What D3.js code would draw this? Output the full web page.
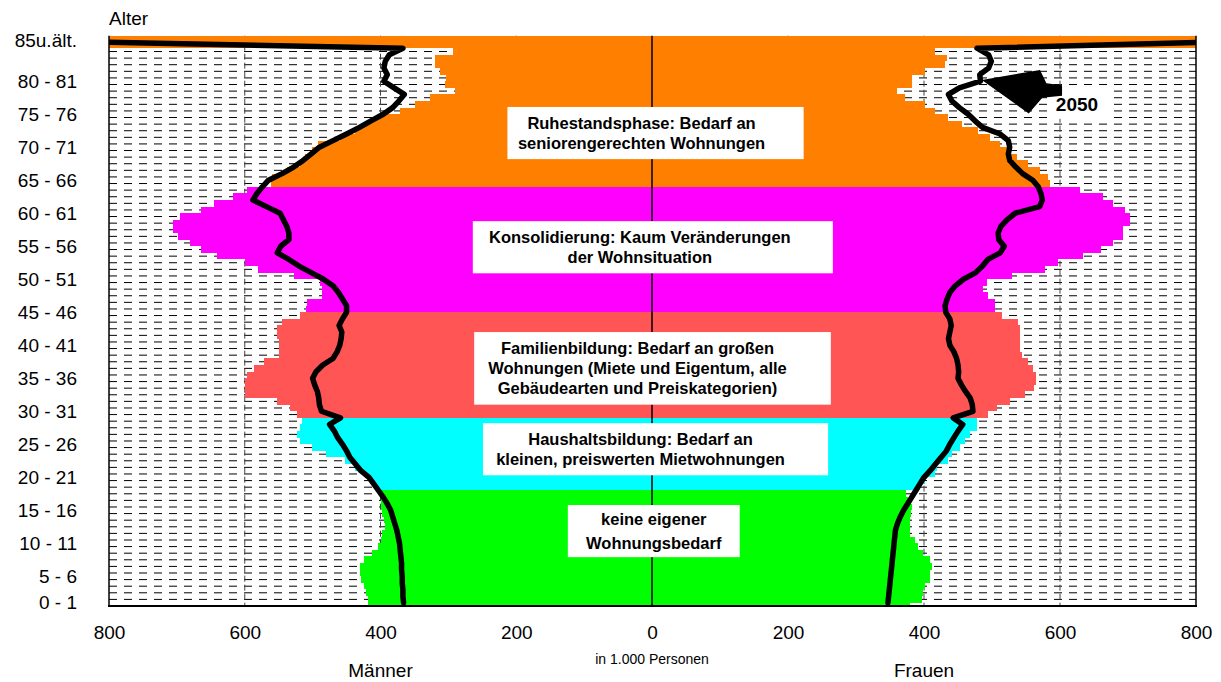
<!DOCTYPE html>
<html>
<head>
<meta charset="utf-8">
<script src="https://cdn.jsdelivr.net/npm/d3@7"></script>
<style>
  body { margin: 0; background: #fff; }
  svg { display: block; font-family: "Liberation Sans", Arial, sans-serif; }
</style>
</head>
<body>
<svg id="chart" width="1221" height="682"></svg>
<script>
// Altersjahre 0 .. 85u.ält., Werte in 1.000 Personen
const ageTickLabels = ["0 - 1", "5 - 6", "10 - 11", "15 - 16", "20 - 21", "25 - 26", "30 - 31",
    "35 - 36", "40 - 41", "45 - 46", "50 - 51", "55 - 56", "60 - 61", "65 - 66", "70 - 71",
    "75 - 76", "80 - 81", "85u.ält."]

const xTickValues = [0, 200, 400, 600, 800]

// heutiger Bestand (farbige Balken)
const maleNow = [
    418, 418, 421, 424, 428, 430, 430, 424, 412, 403, 400, 398, 393, 395, 398, 399, 400, 400,
    405, 412, 423, 437, 452, 481, 501, 518, 523, 518, 515,
    523, 533, 552, 599, 599, 599, 597, 587, 572, 550, 550, 550, 552, 552, 545, 518,
    510, 508, 486, 486, 489, 528, 580, 599, 641, 665, 680, 698, 705, 705, 695, 665, 646, 618, 596,
    562, 560, 538, 518, 511, 501, 492, 459, 437, 422, 405, 371, 349, 327, 290, 305, 303, 312, 319, 319, 293, 900]

const femaleNow = [
    379, 397, 399, 401, 409, 409, 412, 409, 399, 391, 387, 379, 379, 379, 381, 382, 376, 374,
    394, 401, 416, 419, 435, 441, 453, 460, 468, 478, 478,
    494, 507, 526, 549, 562, 565, 565, 560, 553, 544, 541, 541, 541, 541, 538, 514,
    504, 504, 494, 487, 492, 529, 578, 597, 634, 661, 678, 693, 693, 703, 703, 696, 678, 663, 630,
    585, 582, 571, 553, 537, 522, 512, 497, 479, 456, 435, 416, 401, 372, 360, 382, 382, 401, 431, 434, 416, 1200]

// Vorausberechnung 2050 (schwarze Linie)
const male2050 = [
    366, 367, 367, 368, 368, 369, 369, 370, 371, 372,
    374, 376, 379, 382, 385, 390, 396, 403, 410, 417,
    429, 437, 445, 450, 456, 463, 468, 475, 459, 487,
    490, 491, 493, 497, 500, 495, 485, 470, 464, 460,
    458, 457, 461, 456, 450, 450, 456, 462, 470, 484,
    502, 520, 535, 552, 547, 535, 535, 538, 543, 548,
    568, 588, 582, 574, 565, 545, 528, 514, 502, 490,
    470, 450, 431, 414, 396, 382, 373, 365, 380, 395,
    390, 395, 393, 387, 367, 850]

const female2050 = [
    347, 348, 349, 350, 351, 352, 353, 354, 355, 356,
    357, 358, 361, 365, 370, 376, 382, 388, 394, 400,
    409, 417, 425, 433, 438, 444, 450, 457, 443, 472,
    471, 468, 461, 455, 450, 451, 450, 448, 444, 438,
    436, 438, 440, 438, 432, 431, 434, 438, 446, 458,
    476, 486, 494, 512, 518, 510, 509, 513, 522, 534,
    570, 574, 572, 568, 560, 545, 535, 526, 524, 526,
    524, 512, 486, 475, 465, 452, 441, 436, 452, 483,
    482, 495, 499, 495, 478, 850]

// Lebensphasen: letztes Alter der Phase
const phases = [
    { id: "kinder", lastAge: 17, text: ["keine eigener", "Wohnungsbedarf"] },
    { id: "haushalt", lastAge: 28, text: ["Haushaltsbildung: Bedarf an", "kleinen, preiswerten Mietwohnungen"] },
    { id: "familie", lastAge: 44, text: ["Familienbildung: Bedarf an großen", "Wohnungen (Miete und Eigentum, alle", "Gebäudearten und Preiskategorien)"] },
    { id: "konsolidierung", lastAge: 63, text: ["Konsolidierung: Kaum Veränderungen", "der Wohnsituation"] },
    { id: "ruhestand", lastAge: 85, text: ["Ruhestandsphase: Bedarf an", "seniorengerechten Wohnungen"] }]

const phaseColors = { kinder: "#00ff00", haushalt: "#00ffff", familie: "#ff5555", konsolidierung: "#ff00ff", ruhestand: "#ff8000" }

// Textkästen (Lage in Alter / 1.000 Personen)
const boxLayout = {
    kinder: { left: 124, right: 129, top: 15.3, bottom: 7.4, gap: 24, dx: 0 },
    haushalt: { left: 249, right: 259, top: 27.7, bottom: 19.8, gap: 20, dx: -15 },
    familie: { left: 262, right: 263, top: 41.5, bottom: 30.5, gap: 20, dx: -15 },
    konsolidierung: { left: 264, right: 266, top: 58.3, bottom: 50.4, gap: 20, dx: -13 },
    ruhestand: { left: 213, right: 223, top: 75.6, bottom: 67.7, gap: 20, dx: -14 }
}

let svg = d3.select("#chart")
const centerX = 652, outerL = 109, outerR = 1196, bottomY = 606, rowH = 6.601
const maxAge = maleNow.length - 1

let xm = d3.scaleLinear().domain([0, 800]).range([centerX, outerL]),
    xw = d3.scaleLinear().domain([0, 800]).range([centerX, outerR]),
    y = d3.scaleLinear().domain([0, 86]).range([bottomY, bottomY - 86 * rowH])
const plotTop = y(86.4)

const phaseOf = (age) => phases.find(p => age <= p.lastAge).id

svg.append("defs").append("clipPath")
    .attr("id", "plot-clip")
    .append("rect")
    .attr("x", outerL)
    .attr("y", plotTop - 2)
    .attr("width", outerR - outerL)
    .attr("height", bottomY - plotTop + 2)

let plot = svg.append("g").attr("clip-path", "url(#plot-clip)")

// horizontale Gitterlinien je Altersjahr
plot.append("g")
    .selectAll("line")
    .data(d3.range(1, maxAge + 1))
    .enter().append("line")
    .attr("x1", outerL)
    .attr("x2", outerR)
    .attr("y1", d => y(d))
    .attr("y2", d => y(d))
    .style("stroke", "#000")
    .style("stroke-width", 1)
    .attr("stroke-dasharray", "8,7")

// senkrechte Gitterlinien
let vgrid = xTickValues.filter(v => v > 0 && v < 800)
plot.append("g")
    .selectAll("line")
    .data(vgrid.map(v => xm(v)).concat(vgrid.map(v => xw(v))))
    .enter().append("line")
    .attr("x1", d => d)
    .attr("x2", d => d)
    .attr("y1", plotTop)
    .attr("y2", bottomY)
    .style("stroke", "#444")
    .style("stroke-width", 1)
    .attr("stroke-dasharray", "6,3")

const barTop = (a) => a === maxAge ? plotTop : y(a + 0.5)

plot.append("g")
    .attr("shape-rendering", "crispEdges")
    .selectAll("rect")
    .data(maleNow)
    .enter().append("rect")
    .attr("x", d => xm(d))
    .attr("width", d => centerX - xm(d))
    .attr("y", (d, i) => barTop(i))
    .attr("height", (d, i) => y(i - 0.5) - barTop(i))
    .style("fill", (d, i) => phaseColors[phaseOf(i)])

plot.append("g")
    .attr("shape-rendering", "crispEdges")
    .selectAll("rect")
    .data(femaleNow)
    .enter().append("rect")
    .attr("x", centerX)
    .attr("width", d => xw(d) - centerX)
    .attr("y", (d, i) => barTop(i))
    .attr("height", (d, i) => y(i - 0.5) - barTop(i))
    .style("fill", (d, i) => phaseColors[phaseOf(i)])

// Mittellinie
plot.append("line")
    .attr("x1", centerX)
    .attr("x2", centerX)
    .attr("y1", plotTop)
    .attr("y2", bottomY)
    .style("stroke", "#000")
    .style("stroke-width", 1.5)

// Linien 2050
let lineM = d3.line().x(d => xm(d)).y((d, i) => y(i + 0.5)),
    lineW = d3.line().x(d => xw(d)).y((d, i) => y(i + 0.5))

plot.append("path")
    .attr("d", lineM(male2050))
    .style("fill", "none")
    .style("stroke", "#000")
    .style("stroke-width", 5.5)
    .style("stroke-linejoin", "round")
    .style("stroke-linecap", "round")

plot.append("path")
    .attr("d", lineW(female2050))
    .style("fill", "none")
    .style("stroke", "#000")
    .style("stroke-width", 5.5)
    .style("stroke-linejoin", "round")
    .style("stroke-linecap", "round")

// Textkästen der Lebensphasen
let boxes = svg.append("g")
    .selectAll("g")
    .data(phases)
    .enter().append("g")

boxes.append("rect")
    .attr("x", d => xm(boxLayout[d.id].left))
    .attr("y", d => y(boxLayout[d.id].top))
    .attr("width", d => xw(boxLayout[d.id].right) - xm(boxLayout[d.id].left))
    .attr("height", d => y(boxLayout[d.id].bottom) - y(boxLayout[d.id].top))
    .style("fill", "#fff")

boxes.each(function(d) {
    let b = boxLayout[d.id]
    let cx = (xm(b.left) + xw(b.right)) / 2 + b.dx,
        cy = (y(b.top) + y(b.bottom)) / 2
    d3.select(this).selectAll("text")
        .data(d.text)
        .enter().append("text")
        .attr("x", cx)
        .attr("y", (t, i) => cy + (i - (d.text.length - 1) / 2) * b.gap)
        .attr("dy", "0.36em")
        .attr("text-anchor", "middle")
        .style("font", "bold 16.5px 'Liberation Sans', Arial, sans-serif")
        .style("fill", "#000")
        .text(t => t)
})

// Pfeil und Jahr 2050
svg.append("rect")
    .attr("x", xw(581))
    .attr("y", y(78.5))
    .attr("width", xw(670) - xw(581))
    .attr("height", y(73.8) - y(78.5))
    .style("fill", "#fff")

let arrow = [[485, 79.7], [570.6, 81.2], [580, 79.2], [603, 78.9], [603, 77.3], [574, 77.0], [554, 74.6]]
svg.append("path")
    .attr("d", d3.line().x(d => xw(d[0])).y(d => y(d[1]))(arrow) + "Z")
    .style("fill", "#000")

svg.append("text")
    .attr("x", xw(625))
    .attr("y", y(75))
    .attr("text-anchor", "middle")
    .style("font", "bold 19px 'Liberation Sans', Arial, sans-serif")
    .text("2050")

// Rahmen
svg.append("line")
    .attr("x1", outerL).attr("x2", outerL)
    .attr("y1", plotTop).attr("y2", bottomY)
    .style("stroke", "#000").style("stroke-width", 1.5)
svg.append("line")
    .attr("x1", outerR).attr("x2", outerR)
    .attr("y1", plotTop).attr("y2", bottomY)
    .style("stroke", "#000").style("stroke-width", 1.5)
svg.append("line")
    .attr("x1", outerL - 1).attr("x2", outerR + 1)
    .attr("y1", bottomY).attr("y2", bottomY)
    .style("stroke", "#000").style("stroke-width", 2)

// x-Achsen
svg.append("g")
    .attr("transform", "translate(0," + bottomY + ")")
    .call(d3.axisBottom(xm).tickValues(xTickValues.filter(v => v > 0)).tickSize(0).tickPadding(20))
svg.append("g")
    .attr("transform", "translate(0," + bottomY + ")")
    .call(d3.axisBottom(xw).tickValues(xTickValues).tickSize(0).tickPadding(20))

svg.selectAll(".domain").remove()
svg.selectAll(".tick text")
    .style("font", "19px 'Liberation Sans', Arial, sans-serif")
    .attr("fill", "#000")

// y-Beschriftung
const labelPos = (i) => {
    if (i === 0) return y(0.6)
    if (i === ageTickLabels.length - 1) return y(85.7)
    return y(i * 5 - 0.5)
}

svg.append("g")
    .selectAll("text")
    .data(ageTickLabels)
    .enter().append("text")
    .attr("x", 77)
    .attr("y", (d, i) => labelPos(i))
    .attr("dy", "0.35em")
    .attr("text-anchor", "end")
    .style("font", "19px 'Liberation Sans', Arial, sans-serif")
    .text(d => d)

svg.append("text")
    .attr("x", outerL)
    .attr("y", 25)
    .style("font", "19px 'Liberation Sans', Arial, sans-serif")
    .text("Alter")

svg.append("text")
    .attr("x", xm(400))
    .attr("y", 677)
    .attr("text-anchor", "middle")
    .style("font", "19px 'Liberation Sans', Arial, sans-serif")
    .text("Männer")

svg.append("text")
    .attr("x", xw(400))
    .attr("y", 677)
    .attr("text-anchor", "middle")
    .style("font", "19px 'Liberation Sans', Arial, sans-serif")
    .text("Frauen")

svg.append("text")
    .attr("x", centerX)
    .attr("y", 664)
    .attr("text-anchor", "middle")
    .style("font", "14px 'Liberation Sans', Arial, sans-serif")
    .text("in 1.000 Personen")
</script>
</body>
</html>
